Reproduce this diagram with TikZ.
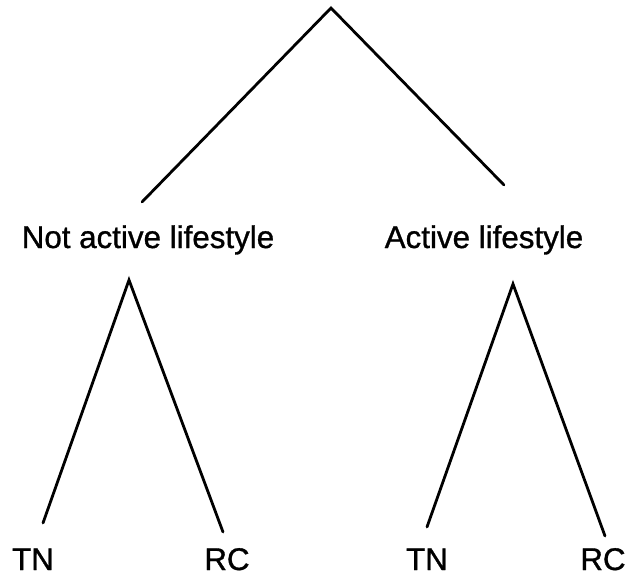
\documentclass[tikz,border=0pt]{standalone}
\usepackage{fontspec}
\setmainfont{Liberation Sans}
\newfontfamily\lblfont[FakeBold=1]{Liberation Sans}

\begin{document}
\begin{tikzpicture}[x=0.75pt,y=0.75pt,yscale=-1,xscale=1,
		branch/.style={line width=2.1pt, line cap=round},
		lbl/.style={anchor=base, inner sep=0.75pt, font=\lblfont\fontsize{23.5}{28}\selectfont}]
				\useasboundingbox (0,0) rectangle (626,575); %diagram is 626 wide and 575 high

				%Points [ends of the branches]
				\coordinate (top) at (331,8);
				\coordinate (notactend) at (142,202);
				\coordinate (actend) at (504,185);
				\coordinate (notacttop) at (129,280);
				\coordinate (notacttn) at (43,523);
				\coordinate (notactrc) at (223,532);
				\coordinate (acttop) at (513,284);
				\coordinate (acttn) at (427,527);
				\coordinate (actrc) at (605,536);

				%Straight Lines [root]
				\draw [branch]  (notactend) -- (top) -- (actend) ;
				%Straight Lines [not active]
				\draw [branch]  (notacttn) -- (notacttop) -- (notactrc) ;
				%Straight Lines [active]
				\draw [branch]  (acttn) -- (acttop) -- (actrc) ;

				% Text Node
				\draw (148,248) node (notact) [lbl]  {Not active lifestyle};
				% Text Node
				\draw (484,248) node (act) [lbl]  {Active lifestyle};
				% Text Node
				\draw (33,570) node (tnleft) [lbl]  {TN};
				% Text Node
				\draw (227,570) node (rcleft) [lbl]  {RC};
				% Text Node
				\draw (427,570) node (tnright) [lbl]  {TN};
				% Text Node
				\draw (603,570) node (rcright) [lbl]  {RC};

\end{tikzpicture}
\end{document}
